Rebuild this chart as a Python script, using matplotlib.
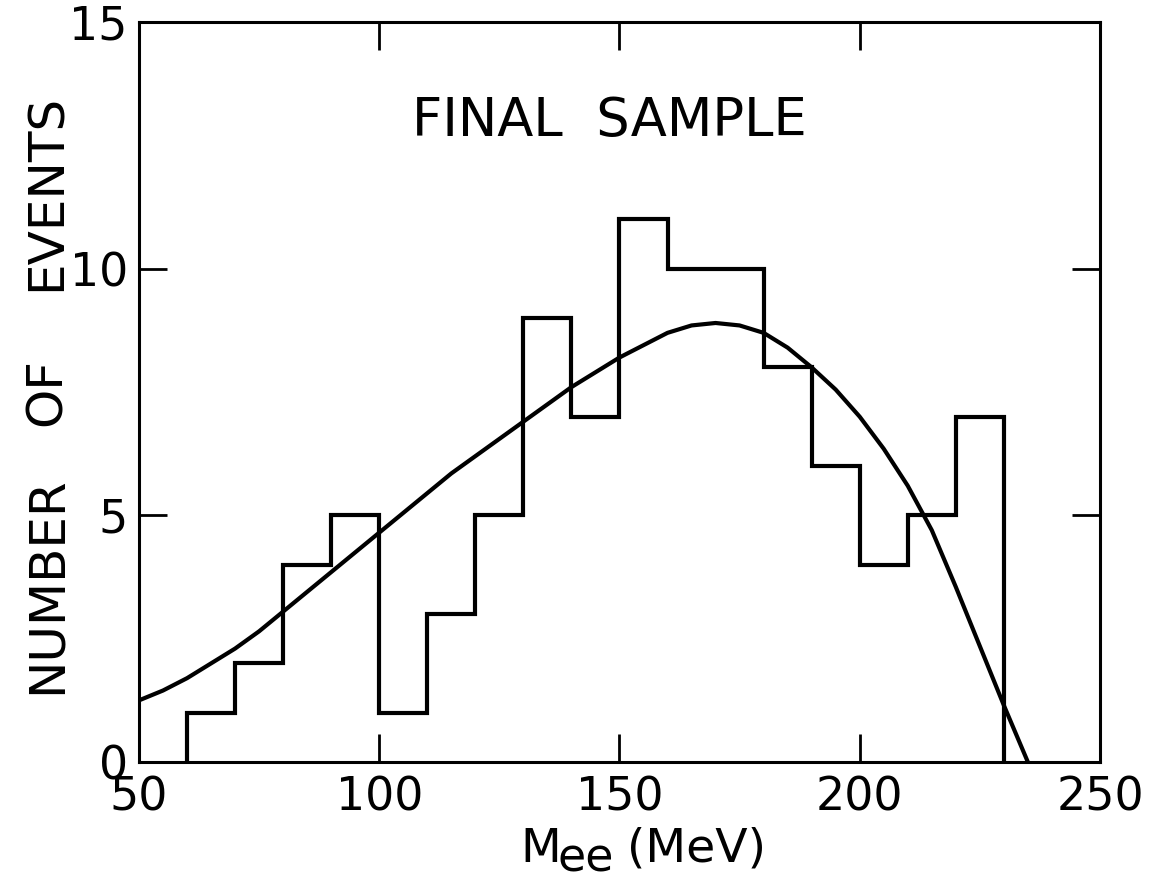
import matplotlib
matplotlib.use('Agg')
import matplotlib.pyplot as plt

# histogram: 10 MeV bins from 60 to 230 MeV
bin_edges = [60, 70, 80, 90, 100, 110, 120, 130, 140, 150, 160, 170, 180, 190, 200, 210, 220, 230]
counts = [1, 2, 4, 5, 1, 3, 5, 9, 7, 11, 10, 10, 8, 6, 4, 5, 7]

# smooth expectation curve
curve_m = [50, 55, 60, 65, 70, 75, 80, 85, 90, 95, 100, 105, 110, 115, 120, 125, 130, 135, 140,
           145, 150, 155, 160, 165, 170, 175, 180, 185, 190, 195, 200, 205, 210, 215, 220, 225,
           230, 235]
curve_n = [1.25, 1.45, 1.7, 2.0, 2.3, 2.65, 3.05, 3.45, 3.85, 4.25, 4.65, 5.05, 5.45, 5.85, 6.2,
           6.55, 6.9, 7.25, 7.6, 7.9, 8.2, 8.45, 8.7, 8.85, 8.9, 8.85, 8.7, 8.4, 8.0, 7.55, 7.0,
           6.35, 5.6, 4.7, 3.55, 2.35, 1.15, 0.0]

xticks = [50, 100, 150, 200, 250]
yticks = [0, 5, 10, 15]

W, H = 1162, 882

plt.rcParams['font.family'] = ['DejaVu Sans']

fig = plt.figure(figsize=(W / 100, H / 100), dpi=100)
ax = fig.add_axes([0.1196, 0.136, 0.827, 0.839])

ax.stairs(counts, bin_edges, baseline=0, color='black', linewidth=3)
ax.plot(curve_m, curve_n, color='black', linewidth=3, solid_capstyle='round')

ax.set_xlim(50, 250)
ax.set_ylim(0, 15)
ax.set_xticks(xticks)
ax.set_yticks(yticks)
ax.tick_params(direction='in', length=20, width=2, labelsize=33, top=True, right=True)
ax.tick_params(axis='x', pad=10)
ax.tick_params(axis='y', pad=8)
for s in ax.spines.values():
    s.set_linewidth(2.2)

ax.text(148, 13.0, 'FINAL  SAMPLE', fontsize=38, ha='center', va='center')

# y label, words spaced wide as in the original lettering
for word, yc in [('NUMBER', 585), ('OF', 392), ('EVENTS', 192)]:
    fig.text(47 / W, 1 - yc / H, word, fontsize=36, rotation=90, ha='center', va='center')

# x label: M with full-size lowered "ee", then (MeV)
fig.text(520 / W, 1 - 862 / H, 'M', fontsize=34, ha='left', va='baseline')
fig.text(557 / W, 1 - 871 / H, 'ee', fontsize=33, ha='left', va='baseline')
fig.text(627 / W, 1 - 862 / H, '(MeV)', fontsize=34, ha='left', va='baseline')

plt.savefig('out.png', dpi=100, facecolor='white')
